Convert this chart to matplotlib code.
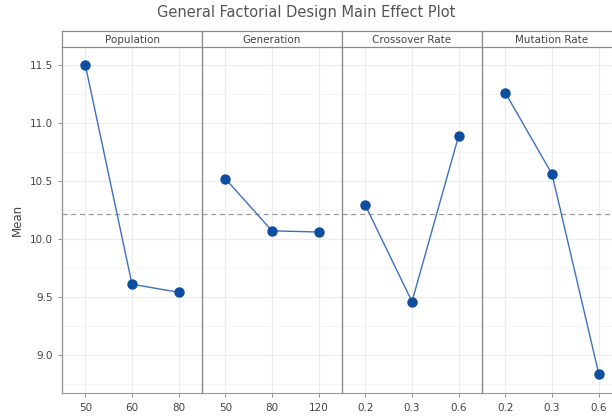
import numpy as np
import matplotlib
matplotlib.use("Agg")
from matplotlib import pyplot as plt

### Main effect plot, four factors with three levels each

factors = ["Population", "Generation", "Crossover Rate", "Mutation Rate"]
levels = [["50", "60", "80"],
          ["50", "80", "120"],
          ["0.2", "0.3", "0.6"],
          ["0.2", "0.3", "0.6"]]
population_mean = [11.50, 9.61, 9.54]
generation_mean = [10.52, 10.07, 10.06]
crossover_mean = [10.29, 9.46, 10.89]
mutation_mean = [11.26, 10.56, 8.84]
means = [population_mean, generation_mean, crossover_mean, mutation_mean]
grand_mean = 10.216

y_ticks = [9.0, 9.5, 10.0, 10.5, 11.0, 11.5]

W, H = 612, 417
fig = plt.figure(figsize=(W / 100, H / 100), dpi=100)
plt.rcParams['font.family'] = ['DejaVu Sans']

left, bottom, top = 62, 393, 47
pw = 140
strip_h = 16
txt = '#444444'
border = '#8a8a8a'

for i, (name, labs, vals) in enumerate(zip(factors, levels, means)):
    x0 = left + i * pw
    ax = fig.add_axes([x0 / W, (H - bottom) / H, pw / W, (bottom - top) / H])
    x = np.arange(1, len(vals) + 1)
    ax.plot(x, vals, color='#3f6fbf', lw=1.0, zorder=3)
    ax.plot(x, vals, 'o', color='#0d4ea0', ms=6.5, zorder=4)
    ax.axhline(grand_mean, color='#9a9a9a', lw=0.9, ls=(0, (4, 3)), zorder=2)
    ax.set_xlim(0.5, 3.5)
    ax.set_ylim(8.672, 11.655)
    ax.set_xticks(x)
    ax.set_xticklabels(labs)
    ax.set_yticks(y_ticks)
    ax.set_yticks(np.arange(8.75, 11.6, 0.5), minor=True)
    ax.grid(True, which='major', color='#ececec', lw=0.8)
    ax.grid(True, which='minor', axis='y', color='#f4f4f4', lw=0.6)
    ax.set_axisbelow(True)
    ax.tick_params(axis='x', colors='#999999', labelcolor=txt, labelsize=7.5, length=3, pad=4)
    ax.tick_params(axis='y', which='both', colors='#999999', labelcolor=txt, labelsize=7.5, length=3)
    ax.tick_params(axis='y', which='minor', length=0)
    for s in ['top', 'right']:
        ax.spines[s].set_visible(False)
    ax.spines['bottom'].set_color('#999999')
    ax.spines['left'].set_color(border if i > 0 else '#999999')
    ax.spines['left'].set_linewidth(1.0)
    if i == 0:
        ax.set_ylabel('Mean', color=txt, fontsize=8.5, labelpad=4)
        ax.yaxis.set_major_formatter(matplotlib.ticker.FormatStrFormatter('%.1f'))
    else:
        ax.tick_params(axis='y', which='both', left=False, labelleft=False)

    # strip with factor name
    sx = fig.add_axes([x0 / W, (H - top) / H, pw / W, strip_h / H])
    sx.set_xticks([])
    sx.set_yticks([])
    for s in sx.spines.values():
        s.set_color(border)
        s.set_linewidth(0.9)
    sx.text(0.5, 0.45, name, ha='center', va='center', color=txt, fontsize=7.5,
            transform=sx.transAxes)

fig.text(0.5, 1 - 13 / H, 'General Factorial Design Main Effect Plot', ha='center',
         va='center', color='#555555', fontsize=10.5)

fig.savefig('out.png', dpi=100)
